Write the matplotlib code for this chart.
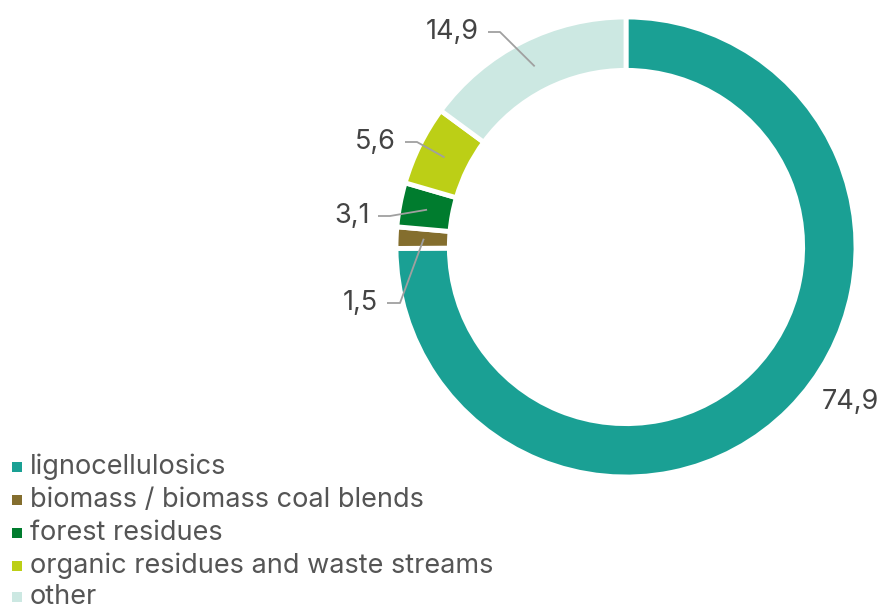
import matplotlib
matplotlib.use("Agg")
import matplotlib.pyplot as plt
from matplotlib.patches import Rectangle
import numpy as np

plt.rcParams['font.family'] = ['Inter', 'DejaVu Sans']

categories = ["lignocellulosics", "biomass / biomass coal blends", "forest residues",
              "organic residues and waste streams", "other"]
values = [74.9, 1.5, 3.1, 5.6, 14.9]
value_labels = ["74,9", "1,5", "3,1", "5,6", "14,9"]
colors = ["#1aa094", "#846e2e", "#007c2e", "#bccf16", "#cce8e2"]

W, H = 878, 608
fig = plt.figure(figsize=(W / 100, H / 100), dpi=100)
cx, cy, R = 626, 247, 230
ax = fig.add_axes([(cx - R) / W, (H - cy - R) / H, 2 * R / W, 2 * R / H])

wedges, _ = ax.pie(values, colors=colors, startangle=90, counterclock=False,
                   radius=1.0, wedgeprops=dict(width=0.232, edgecolor='white', linewidth=3.5))
ax.set_xlim(-1, 1)
ax.set_ylim(-1, 1)
ax.set_aspect('equal')
ax.axis('off')

def px2d(x, y):
    return (x - cx) / R, (cy - y) / R

txt_color = "#444444"
line_color = "#a0a0a0"
fs_lab = 19.5

x, y = px2d(822, 402)
ax.text(x, y, value_labels[0], ha='left', va='center', fontsize=fs_lab, color=txt_color, clip_on=False)

lab_pos = {1: (378, 303, 387, 400), 2: (370, 216, 378, 390),
           3: (396, 142, 405, 417), 4: (479, 32, 488, 500)}
for i, (tx, ty, ls, le) in lab_pos.items():
    w = wedges[i]
    ang = np.deg2rad((w.theta1 + w.theta2) / 2)
    ax_, ay_ = 0.88 * np.cos(ang), 0.88 * np.sin(ang)
    p0 = px2d(ls, ty)
    p1 = px2d(le, ty)
    ax.plot([p0[0], p1[0], ax_], [p0[1], p1[1], ay_], color=line_color, lw=1.3,
            clip_on=False, solid_capstyle='butt')
    t = px2d(tx, ty)
    ax.text(t[0], t[1], value_labels[i], ha='right', va='center', fontsize=fs_lab,
            color=txt_color, clip_on=False)

leg_y = [467, 500, 533, 566, 597]
for cat, col, yy in zip(categories, colors, leg_y):
    fig.add_artist(Rectangle((12 / W, (H - yy - 5) / H), 10 / W, 10 / H,
                             transform=fig.transFigure, color=col, lw=0))
    fig.text(30 / W, (H - yy) / H, cat, ha='left', va='center', fontsize=19.5, color="#555555")

fig.savefig("out.png", dpi=100, facecolor='white')
